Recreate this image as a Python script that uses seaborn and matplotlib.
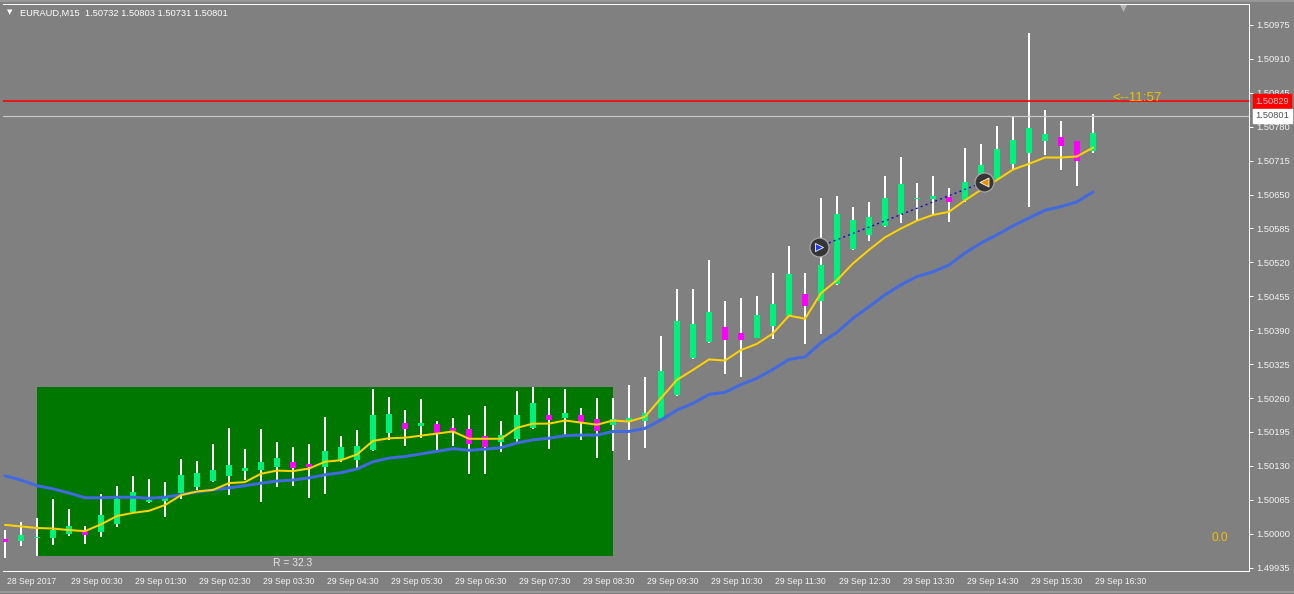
import matplotlib
matplotlib.use("Agg")
import matplotlib.pyplot as plt
import matplotlib.transforms as mtransforms
from matplotlib.patches import Rectangle
from matplotlib.lines import Line2D
import numpy as np
import pandas as pd
import seaborn as sns

# ---------------- data ----------------
title_text = "EURAUD,M15  1.50732 1.50803 1.50731 1.50801"
time_labels = ["28 Sep 2017", "29 Sep 00:30", "29 Sep 01:30", "29 Sep 02:30", "29 Sep 03:30",
               "29 Sep 04:30", "29 Sep 05:30", "29 Sep 06:30", "29 Sep 07:30", "29 Sep 08:30",
               "29 Sep 09:30", "29 Sep 10:30", "29 Sep 11:30", "29 Sep 12:30", "29 Sep 13:30",
               "29 Sep 14:30", "29 Sep 15:30", "29 Sep 16:30"]
price_ticks = [1.49935, 1.50000, 1.50065, 1.50130, 1.50195, 1.50260, 1.50325, 1.50390, 1.50455,
               1.50520, 1.50585, 1.50650, 1.50715, 1.50780, 1.50845, 1.50910, 1.50975]

opens = [1.49989, 1.49986, 1.49991, 1.49992, 1.50000, 1.50006, 1.50004, 1.50019, 1.50042, 1.50060,
         1.50063, 1.50078, 1.50090, 1.50102, 1.50111, 1.50121, 1.50122, 1.50128, 1.50138, 1.50134,
         1.50128, 1.50141, 1.50141, 1.50160, 1.50193, 1.50212, 1.50207, 1.50210, 1.50203, 1.50201,
         1.50187, 1.50176, 1.50182, 1.50203, 1.50228, 1.50222, 1.50228, 1.50220, 1.50208, 1.50216,
         1.50216, 1.50222, 1.50266, 1.50337, 1.50368, 1.50396, 1.50385, 1.50375, 1.50398, 1.50417,
         1.50459, 1.50446, 1.50479, 1.50546, 1.50573, 1.50590, 1.50613, 1.50641, 1.50641, 1.50645,
         1.50640, 1.50657, 1.50680, 1.50709, 1.50730, 1.50753, 1.50760, 1.50753, 1.50733]
highs = [1.50007, 1.50022, 1.50030, 1.50067, 1.50047, 1.50015, 1.50076, 1.50092, 1.50111, 1.50105,
         1.50099, 1.50143, 1.50139, 1.50172, 1.50203, 1.50162, 1.50201, 1.50175, 1.50166, 1.50172,
         1.50224, 1.50187, 1.50199, 1.50277, 1.50262, 1.50237, 1.50258, 1.50216, 1.50222, 1.50228,
         1.50245, 1.50216, 1.50274, 1.50281, 1.50260, 1.50277, 1.50241, 1.50260, 1.50260, 1.50285,
         1.50300, 1.50379, 1.50469, 1.50469, 1.50525, 1.50446, 1.50452, 1.50456, 1.50500, 1.50551,
         1.50500, 1.50643, 1.50647, 1.50626, 1.50636, 1.50686, 1.50722, 1.50672, 1.50686, 1.50663,
         1.50739, 1.50747, 1.50781, 1.50799, 1.50960, 1.50812, 1.50791, 1.50753, 1.50804]
lows = [1.49954, 1.49977, 1.49958, 1.49979, 1.49996, 1.49980, 1.49994, 1.50012, 1.50042, 1.50059,
        1.50033, 1.50066, 1.50084, 1.50099, 1.50075, 1.50103, 1.50060, 1.50090, 1.50092, 1.50069,
        1.50076, 1.50138, 1.50122, 1.50159, 1.50180, 1.50168, 1.50184, 1.50160, 1.50168, 1.50115,
        1.50115, 1.50157, 1.50176, 1.50201, 1.50162, 1.50189, 1.50180, 1.50145, 1.50159, 1.50141,
        1.50164, 1.50222, 1.50264, 1.50335, 1.50366, 1.50306, 1.50300, 1.50375, 1.50373, 1.50417,
        1.50364, 1.50383, 1.50477, 1.50544, 1.50561, 1.50588, 1.50596, 1.50601, 1.50611, 1.50597,
        1.50636, 1.50657, 1.50680, 1.50699, 1.50626, 1.50726, 1.50697, 1.50666, 1.50730]
closes = [1.49985, 1.49998, 1.49994, 1.50007, 1.50015, 1.49998, 1.50036, 1.50067, 1.50080, 1.50065,
          1.50070, 1.50112, 1.50116, 1.50122, 1.50132, 1.50126, 1.50138, 1.50145, 1.50126, 1.50127,
          1.50159, 1.50166, 1.50168, 1.50228, 1.50229, 1.50201, 1.50212, 1.50193, 1.50197, 1.50172,
          1.50166, 1.50189, 1.50228, 1.50251, 1.50218, 1.50231, 1.50212, 1.50197, 1.50220, 1.50222,
          1.50231, 1.50312, 1.50408, 1.50402, 1.50425, 1.50371, 1.50371, 1.50419, 1.50440, 1.50498,
          1.50436, 1.50515, 1.50613, 1.50601, 1.50607, 1.50643, 1.50670, 1.50643, 1.50647, 1.50636,
          1.50674, 1.50707, 1.50737, 1.50755, 1.50778, 1.50766, 1.50743, 1.50714, 1.50768]
ma_fast = [1.50017, 1.50014, 1.50011, 1.50010, 1.50007, 1.50005, 1.50018, 1.50034, 1.50040, 1.50044,
           1.50055, 1.50074, 1.50081, 1.50084, 1.50097, 1.50099, 1.50115, 1.50121, 1.50120, 1.50125,
           1.50138, 1.50141, 1.50152, 1.50178, 1.50183, 1.50184, 1.50188, 1.50192, 1.50196, 1.50182,
           1.50182, 1.50182, 1.50203, 1.50211, 1.50211, 1.50217, 1.50213, 1.50209, 1.50217, 1.50215,
           1.50224, 1.50260, 1.50295, 1.50314, 1.50334, 1.50332, 1.50352, 1.50364, 1.50384, 1.50418,
           1.50412, 1.50461, 1.50486, 1.50518, 1.50544, 1.50568, 1.50585, 1.50600, 1.50611, 1.50617,
           1.50639, 1.50659, 1.50678, 1.50698, 1.50709, 1.50721, 1.50721, 1.50723, 1.50740]
ma_slow = [1.50111, 1.50103, 1.50092, 1.50086, 1.50078, 1.50069, 1.50069, 1.50070, 1.50070, 1.50068,
           1.50070, 1.50075, 1.50080, 1.50084, 1.50088, 1.50092, 1.50097, 1.50101, 1.50103, 1.50107,
           1.50113, 1.50117, 1.50124, 1.50138, 1.50145, 1.50148, 1.50153, 1.50158, 1.50163, 1.50160,
           1.50162, 1.50165, 1.50174, 1.50180, 1.50183, 1.50188, 1.50189, 1.50189, 1.50196, 1.50196,
           1.50202, 1.50218, 1.50237, 1.50250, 1.50267, 1.50271, 1.50286, 1.50298, 1.50315, 1.50334,
           1.50339, 1.50366, 1.50386, 1.50413, 1.50435, 1.50458, 1.50477, 1.50493, 1.50502, 1.50515,
           1.50538, 1.50557, 1.50573, 1.50590, 1.50605, 1.50620, 1.50627, 1.50636, 1.50655]

range_start_bar = 2
range_end_bar = 38
range_label = "R = 32.3"
alert_level = 1.50829
bid_price = 1.50801
timer_text = "<--11:57"
corner_text = "0.0"
trade_bars = [50.88, 61.17]
trade_prices = [1.50550, 1.50674]

# ---------------- styling ----------------
BG = "#808080"
PX = 0.72  # points per pixel at dpi 100
FONT = ["Liberation Sans", "DejaVu Sans"]
sns.set_style("dark")
plt.rcParams["font.family"] = FONT

fig = plt.figure(figsize=(12.94, 5.94), dpi=100, facecolor=BG)
W, H = 1294, 594
ax = fig.add_axes([3 / W, (H - 571) / H, 1246 / W, 567 / H])
ax.set_facecolor(BG)

n = len(opens)
idx = np.arange(n)
df = pd.DataFrame({"bar": idx, "open": opens, "high": highs, "low": lows, "close": closes,
                   "fast": ma_fast, "slow": ma_slow})

# range box
r_high = df["high"].iloc[range_start_bar:range_end_bar + 1].max()
r_low = df["low"].iloc[range_start_bar:range_end_bar + 1].min()
ax.add_patch(Rectangle((range_start_bar, r_low), range_end_bar - range_start_bar, r_high - r_low,
                       facecolor="#007800", edgecolor="none", zorder=1))
ax.annotate(range_label, xy=(18, r_low), xytext=(0, -7.5 * PX), textcoords="offset points",
            ha="center", va="center", color="#E6E6E6", fontsize=7.4, zorder=6)

# candles
ax.vlines(df["bar"], df["low"], df["high"], color="white", linewidth=2 * PX, zorder=2)
up = df["close"] >= df["open"]
body_lo = np.minimum(df["open"], df["close"])
body_h = np.maximum(np.abs(df["close"] - df["open"]), 2.5e-5)
ax.bar(df["bar"], body_h, bottom=body_lo, width=0.33,
       color=np.where(up, "#00F07C", "#FF00FF"), linewidth=0, zorder=3)

# moving averages
sns.lineplot(data=df, x="bar", y="slow", ax=ax, color="#4169E1", linewidth=3 * PX, zorder=4)
sns.lineplot(data=df, x="bar", y="fast", ax=ax, color="#FFD200", linewidth=2 * PX, zorder=5)

# horizontal levels
ax.axhline(alert_level, color="#FF0000", linewidth=1.6 * PX, zorder=6, snap=True)
ax.axhline(bid_price, color="#C8C8C8", linewidth=1.2 * PX, zorder=6, snap=True)

# trade arrows
ax.plot(trade_bars, trade_prices, linestyle=(0, (1.5, 2.5)), color="#0000C8", linewidth=1.3 * PX, zorder=7)
ax.scatter(trade_bars, trade_prices, s=(19 * PX) ** 2, facecolor="#363636", edgecolor="#A8A8A8",
           linewidth=1.2 * PX, zorder=8)
ax.scatter([trade_bars[0]], [trade_prices[0]], marker=">", s=(8 * PX) ** 2, color="#1E3CFF",
           edgecolor="white", linewidth=0.8 * PX, zorder=9)
ax.scatter([trade_bars[1]], [trade_prices[1]], marker="<", s=(9 * PX) ** 2, color="#E8900A",
           edgecolor="white", linewidth=0.8 * PX, zorder=9)

# axes limits
ax.set_xlim(-0.125, 77.75)
ax.set_ylim(1.499286, 1.510152)
ax.grid(False)

# y axis on right
ax.yaxis.tick_right()
ax.set_yticks(price_ticks)
ax.set_yticklabels([f"{p:.5f}" for p in price_ticks])
ax.tick_params(axis="y", direction="out", length=4 * PX, width=1 * PX, color="white",
               labelcolor="#F4F4F4", labelsize=6.7, pad=3 * PX, left=False, right=True)
# x axis
ax.set_xticks(np.arange(len(time_labels)) * 4)
ax.set_xticklabels(time_labels)
ax.tick_params(axis="x", direction="out", length=4 * PX, width=1 * PX, color="white",
               labelcolor="#F4F4F4", labelsize=6.2, pad=2 * PX)
shift = mtransforms.ScaledTranslation(2 / 100, 0, fig.dpi_scale_trans)
for lbl in ax.get_xticklabels():
    lbl.set_horizontalalignment("left")
    lbl.set_transform(lbl.get_transform() + shift)
ax.set_xlabel("")
ax.set_ylabel("")

for side in ["top", "right", "bottom"]:
    ax.spines[side].set_color("white")
    ax.spines[side].set_linewidth(1 * PX)
ax.spines["left"].set_visible(False)

# price labels on right axis
blend = mtransforms.blended_transform_factory(ax.transAxes, ax.transData)
ax.annotate(f"{alert_level:.5f}", xy=(1.0, alert_level), xycoords=blend,
            xytext=(6.5 * PX, 0), textcoords="offset points", ha="left", va="center",
            fontsize=6.7, color="#D8C8C8", zorder=10, annotation_clip=False,
            bbox=dict(boxstyle="square,pad=0.25", fc="#FF0000", ec="#FF0000"))
ax.annotate(f"{bid_price:.5f}", xy=(1.0, bid_price), xycoords=blend,
            xytext=(6.5 * PX, 0), textcoords="offset points", ha="left", va="center",
            fontsize=6.7, color="#505050", zorder=10, annotation_clip=False,
            bbox=dict(boxstyle="square,pad=0.25", fc="white", ec="white"))

# timer text and corner value
ax.annotate(timer_text, xy=(n - 1, alert_level), xytext=(19 * PX, 3 * PX), textcoords="offset points",
            ha="left", va="center", fontsize=9.6, color="#F0C000", zorder=10)
ax.text((1212 - 3) / 1246, (571 - 538) / 567, corner_text, transform=ax.transAxes, ha="left",
        va="center", fontsize=8.6, color="#F0C000", zorder=10)

# chart shift marker
ax.scatter([(1123 - 3) / 1246], [(571 - 7.5) / 567], marker="v", s=(7 * PX) ** 2, color="#B4B4B4",
           transform=ax.transAxes, clip_on=False, zorder=10, linewidth=0)

# header
fig.text(20 / W, 1 - 13 / H, title_text, ha="left", va="center", fontsize=6.7, color="white")
fig.text(10 / W, 1 - 12.5 / H, "\u25bc", ha="center", va="center", fontsize=5, color="white",
         family=["DejaVu Sans"])
fig.add_artist(Line2D([0, 1], [1 - 1 / H, 1 - 1 / H], transform=fig.transFigure, color="#A0A0A0",
                      linewidth=1.5 * PX))
fig.add_artist(Line2D([0, 1], [2 / H, 2 / H], transform=fig.transFigure, color="#A0A0A0",
                      linewidth=1.5 * PX))

fig.savefig("out.png", dpi=100, facecolor=BG)
